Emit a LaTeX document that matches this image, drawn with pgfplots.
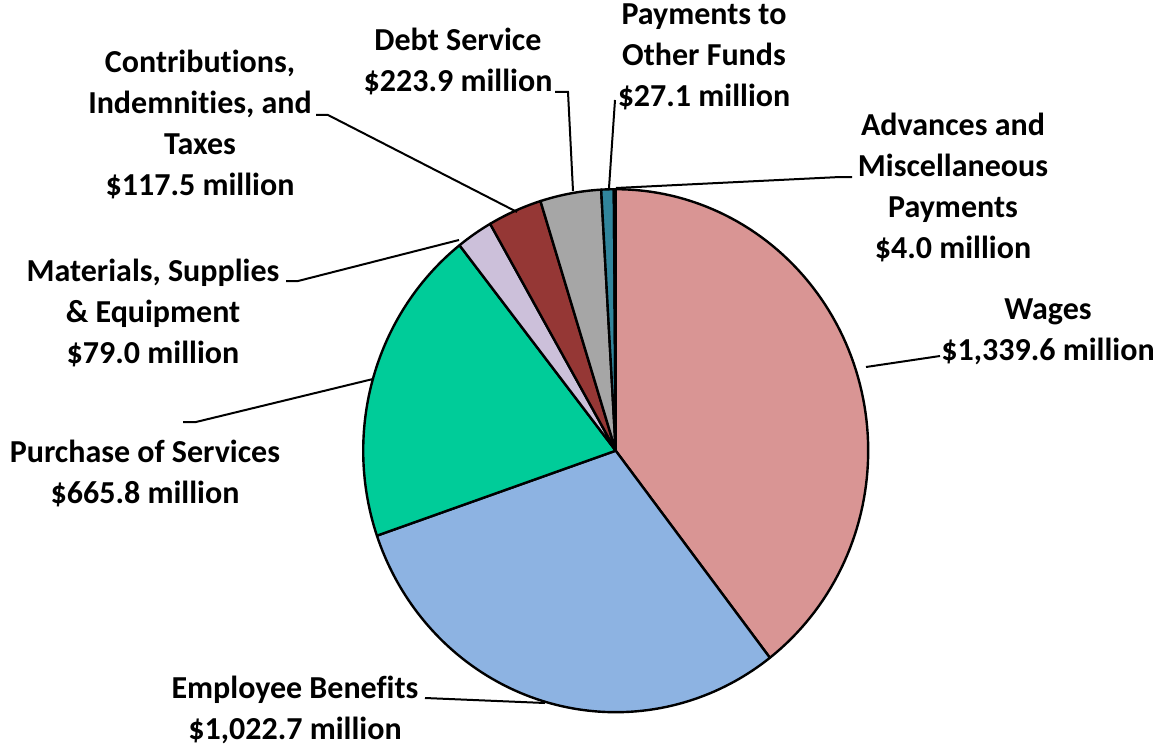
\documentclass[border=0pt]{standalone}
\usepackage{pgfplots}
\pgfplotsset{compat=1.18}
\usepackage{fontspec}
\setmainfont{Carlito}[Ligatures=NoCommon]
\definecolor{cWages}{HTML}{D99594}
\definecolor{cEB}{HTML}{8DB3E2}
\definecolor{cPoS}{HTML}{00CC99}
\definecolor{cMat}{HTML}{CCC0DA}
\definecolor{cCon}{HTML}{953735}
\definecolor{cDebt}{HTML}{A6A6A6}
\definecolor{cPay}{HTML}{31859C}
\definecolor{cAdv}{HTML}{1F497D}
% slice values (in millions) as drawn, clockwise from 12 o'clock
\def\vWages{1339.6}
\def\vEB{1022.7}
\def\vPoS{665.8}
\def\vMat{79.0}
\def\vCon{117.5}
\def\vDebt{132.0}
\def\vPay{27.1}
\def\vAdv{4.0}
\pgfmathsetmacro\vTot{\vWages+\vEB+\vPoS+\vMat+\vCon+\vDebt+\vPay+\vAdv}
\pgfmathsetmacro\aA{90}
\pgfmathsetmacro\aB{\aA-360*(\vWages/\vTot)}
\pgfmathsetmacro\aC{\aB-360*(\vEB/\vTot)}
\pgfmathsetmacro\aD{\aC-360*(\vPoS/\vTot)}
\pgfmathsetmacro\aE{\aD-360*(\vMat/\vTot)}
\pgfmathsetmacro\aF{\aE-360*(\vCon/\vTot)}
\pgfmathsetmacro\aG{\aF-360*(\vDebt/\vTot)}
\pgfmathsetmacro\aH{\aG-360*(\vPay/\vTot)}
\pgfmathsetmacro\aI{\aH-360*(\vAdv/\vTot)}
\def\cx{615.7}
\def\cy{450.7}
\def\rx{252.5}
\def\ry{261.5}
\newcommand{\slice}[3]{%
  \addplot[draw=black, line width=1.2pt, fill=#3, line join=round, domain=#1:#2, samples=90]
    ({\cx+\rx*cos(x)},{\cy-\ry*sin(x)}) -- (axis cs:\cx,\cy) -- cycle;
}
\tikzset{lbl/.style={font=\fontsize{16}{20.5}\selectfont\bfseries, align=center, inner sep=0pt}}
\begin{document}
\begin{tikzpicture}
\begin{axis}[width=578pt, height=374.5pt, scale only axis,
  xmin=0, xmax=1156, ymin=0, ymax=749, y dir=reverse,
  hide axis, clip=false]
\addplot[draw=none] coordinates {(0,0) (1156,749)};
\slice{\aB}{\aA}{cWages}
\slice{\aC}{\aB}{cEB}
\slice{\aD}{\aC}{cPoS}
\slice{\aE}{\aD}{cMat}
\slice{\aF}{\aE}{cCon}
\slice{\aG}{\aF}{cDebt}
\slice{\aH}{\aG}{cPay}
\slice{\aI}{\aH}{cAdv}
% leader lines
\addplot[black, line width=1pt] coordinates {(866,367) (940,356)};
\addplot[black, line width=1pt] coordinates {(425,698) (545,703)};
\addplot[black, line width=1pt] coordinates {(183,422) (196,422) (373,379)};
\addplot[black, line width=1pt] coordinates {(286,281) (298,281) (459,240)};
\addplot[black, line width=1pt] coordinates {(316,115) (328,115) (517,212)};
\addplot[black, line width=1pt] coordinates {(555,92) (568,92) (573,191)};
\addplot[black, line width=1pt] coordinates {(615,100) (609,188)};
\addplot[black, line width=1pt] coordinates {(616,188) (840,177) (852,177)};
% labels
\node[lbl] at (axis cs:704,57) {Payments to\\Other Funds\\\$27.1 million};
\node[lbl] at (axis cs:458,61.5) {Debt Service\\\$223.9 million};
\node[lbl] at (axis cs:200,124) {Contributions,\\Indemnities, and\\Taxes\\\$117.5 million};
\node[lbl] at (axis cs:953,187) {Advances and\\Miscellaneous\\Payments\\\$4.0 million};
\node[lbl] at (axis cs:1048,332) {Wages\\\$1,339.6 million};
\node[lbl] at (axis cs:153,313) {Materials, Supplies\\\& Equipment\\\$79.0 million};
\node[lbl] at (axis cs:145,473.5) {Purchase of Services\\\$665.8 million};
\node[lbl] at (axis cs:295,710) {Employee Benefits\\\$1,022.7 million};
\end{axis}
\pgfresetboundingbox
\path (0,0) rectangle (578pt,374.5pt);
\end{tikzpicture}
\end{document}
